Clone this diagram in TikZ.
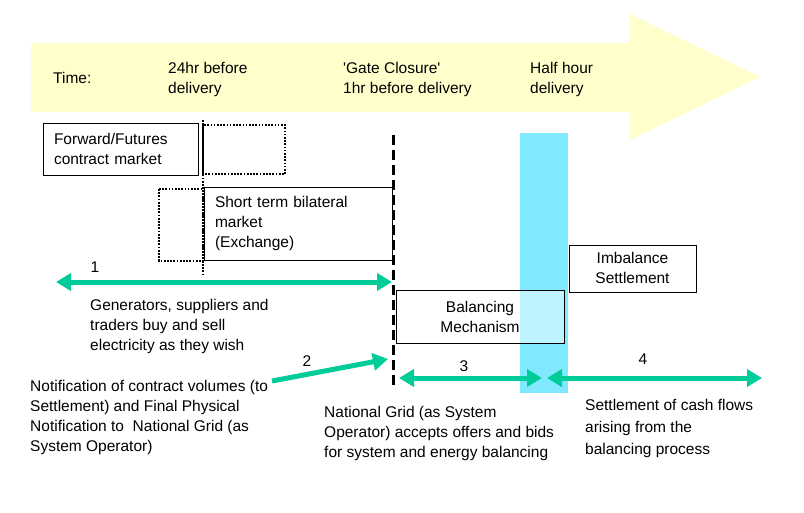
\documentclass[tikz,border=0pt]{standalone}
\usepackage{fontspec}
\setmainfont{Liberation Sans}
\usetikzlibrary{arrows.meta}
\definecolor{timeyellow}{HTML}{FFFFCC}
\definecolor{barcyan}{HTML}{80E8FF}
\definecolor{flowgreen}{HTML}{00CC99}
\begin{document}
\begin{tikzpicture}[x=1pt,y=-1pt,
    font=\fontsize{15.5}{20}\selectfont,
    >={Triangle[length=15pt,width=17pt]},
    box/.style={draw,line width=1pt,inner sep=0pt},
    txt/.style={anchor=north west,inner sep=0pt,align=left},
    num/.style={anchor=north,inner sep=0pt},
    dotbox/.style={line width=1.7pt,dash pattern=on 1.7pt off 1.5pt},
    flow/.style={draw=flowgreen,line width=5pt}]
    \useasboundingbox (0,0) rectangle (804,512);

    % time line
    \fill[timeyellow] (31,43) -- (630,43) -- (630,14) -- (760,77) -- (630,140) -- (630,112) -- (31,112) -- cycle;
    \node[txt] (time) at (53,72) {Time:};
    \node[txt] (dayahead) at (168,62) {24hr before\\delivery};
    \node[txt] (gate) at (343,62) {\textquotesingle Gate Closure\textquotesingle\\1hr before delivery};
    \node[txt] (halfhour) at (530,62) {Half hour\\delivery};

    % delivery bar and gate closure
    \fill[barcyan] (520,133) rectangle (568,393);
    \draw[dotbox] (203,125) rectangle (285,174);
    \draw[dotbox] (159,189) rectangle (203,261);
    \draw[dotbox] (203,120) -- (203,274);

    % markets
    \node[box,minimum width=155pt,minimum height=52pt,text width=133pt,align=left] (fwd) at (120.5,149) {Forward/Futures\\contract market};
    \node[box,fill=white,minimum width=188pt,minimum height=73pt,text width=166pt,align=left] (bilat) at (298,223.5) {Short term bilateral\\market\\(Exchange)};
    \draw[line width=3pt,dash pattern=on 10pt off 5pt] (393,135) -- (393,388);
    \node[box,minimum width=127pt,minimum height=47pt,align=center,text depth=1pt] (imbal) at (632.5,268.5) {Imbalance\\Settlement};
    \node[box,fill=white,fill opacity=0.5,text opacity=1,minimum width=168pt,minimum height=53pt,align=center] (balmech) at (480,316.5) {Balancing\\Mechanism};

    % stages
    \coordinate (m1w) at (56,282);
    \coordinate (m1e) at (392,282);
    \coordinate (n2s) at (272,381);
    \coordinate (n2e) at (388,359);
    \coordinate (b3w) at (399,378);
    \coordinate (b3e) at (542,378);
    \coordinate (s4w) at (547,378);
    \coordinate (s4e) at (762,378);
    \draw[flow,<->] (m1w) -- (m1e);
    \draw[flow,->] (n2s) -- (n2e);
    \draw[flow,<->] (b3w) -- (b3e);
    \draw[flow,<->] (s4w) -- (s4e);
    \node[num] (l1) at (95,262) {1};
    \node[num] (l2) at (307,355) {2};
    \node[num] (l3) at (464,360) {3};
    \node[num] (l4) at (643,354) {4};

    \node[txt] (trade) at (90,299) {Generators, suppliers and\\traders buy and sell\\electricity as they wish};
    \node[txt] (notify) at (30,380) {Notification of contract volumes (to\\Settlement) and Final Physical\\Notification to\ \ National Grid (as\\System Operator)};
    \node[txt] (operator) at (324,406) {National Grid (as System\\Operator) accepts offers and bids\\for system and energy balancing};
    \node[txt,font=\fontsize{15.5}{22}\selectfont] (cashflow) at (585,399) {Settlement of cash flows\\arising from the\\balancing process};
\end{tikzpicture}
\end{document}
